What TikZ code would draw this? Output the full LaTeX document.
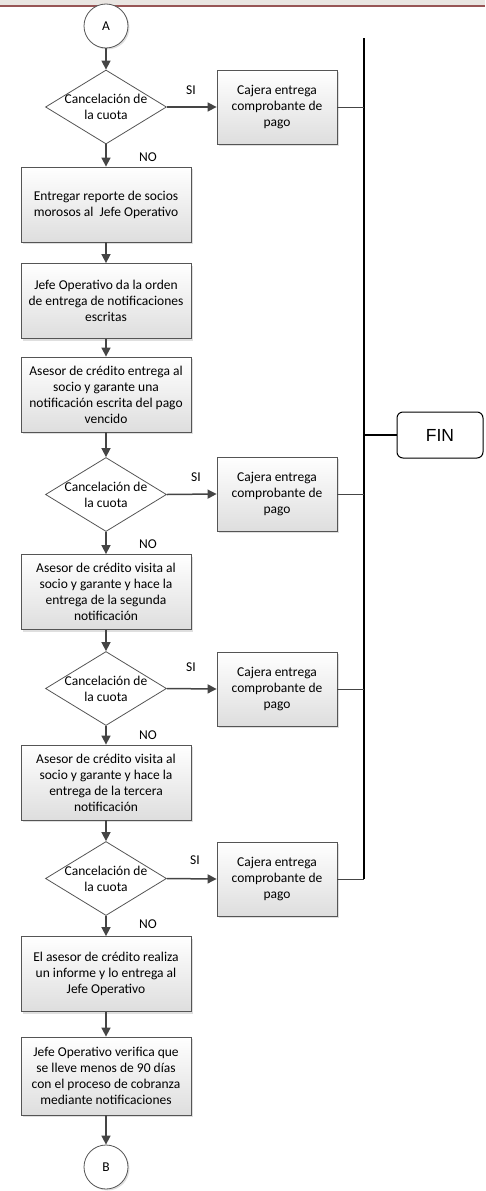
\documentclass[tikz,border=0pt]{standalone}
\usepackage{fontspec}
\setmainfont{Carlito}
\newfontfamily\finfont{Liberation Sans}
\usetikzlibrary{shapes.geometric,arrows.meta,shadows}
\definecolor{linegray}{HTML}{454545}
\definecolor{boxborder}{HTML}{555555}
\definecolor{hdrgray}{HTML}{EAE6E2}
\definecolor{hdrred}{HTML}{985656}
\tikzset{
  txt/.style={font=\fontsize{13.5}{16}\selectfont, align=center},
  procbox/.style={draw=boxborder, line width=0.8pt, top color=white, bottom color=black!13,
    minimum width=170pt, minimum height=75pt, inner sep=0pt, txt,
    drop shadow={shadow xshift=2pt, shadow yshift=-2pt, opacity=0.25}},
  paybox/.style={procbox, minimum width=120pt, minimum height=74pt},
  decbox/.style={diamond, draw=boxborder, line width=0.8pt, fill=white,
    minimum width=121pt, minimum height=74pt, inner sep=0pt},
  conn/.style={circle, draw=boxborder, line width=0.8pt, fill=white, minimum size=44pt,
    inner sep=0pt, txt, drop shadow={shadow xshift=1.5pt, shadow yshift=-1.5pt, opacity=0.25}},
  finbox/.style={draw=black, line width=1pt, rounded corners=6pt, fill=white,
    minimum width=86pt, minimum height=46pt, inner sep=0pt, font=\finfont\fontsize{17.5}{20}\selectfont},
  arr/.style={draw=linegray, line width=1.5pt, -{Triangle[length=9pt,width=9pt]}},
  tieline/.style={draw=linegray, line width=1pt},
  bus/.style={draw=black, line width=1.3pt},
  lbl/.style={font=\fontsize{13.5}{16}\selectfont, inner sep=0pt},
}
\begin{document}
\begin{tikzpicture}[x=1pt,y=-1pt]
\useasboundingbox (0,0) rectangle (485,1191);
% header strip
\fill[hdrgray] (0,0) rectangle (485,4.5);
\fill[hdrred] (0,4.5) rectangle (485,6.8);

% connectors A/B
\node[conn] (A) at (106,26) {A};
\node[conn] (B) at (106,1167) {B};

% decisions
\node[decbox] (d1) at (106,107) {};
\node[txt] at (d1) {Cancelación de\\la cuota};
\node[decbox] (d2) at (106,494.5) {};
\node[txt] at (d2) {Cancelación de\\la cuota};
\node[decbox] (d3) at (106,688.5) {};
\node[txt] at (d3) {Cancelación de\\la cuota};
\node[decbox] (d4) at (106,878.5) {};
\node[txt] at (d4) {Cancelación de\\la cuota};

% process boxes
\node[procbox] (p1) at (106,204.5) {Entregar reporte de socios\\morosos al\ \ Jefe Operativo};
\node[procbox] (p2) at (106,301) {Jefe Operativo da la orden\\de entrega de notificaciones\\escritas};
\node[procbox] (p3) at (106,394.5) {Asesor de crédito entrega al\\socio y garante una\\notificación escrita del pago\\vencido};
\node[procbox] (p4) at (106,592) {Asesor de crédito visita al\\socio y garante y hace la\\entrega de la segunda\\notificación};
\node[procbox] (p5) at (106,782.5) {Asesor de crédito visita al\\socio y garante y hace la\\entrega de la tercera\\notificación};
\node[procbox] (p6) at (106,974) {El asesor de crédito realiza\\un informe y lo entrega al\\Jefe Operativo};
\node[procbox, minimum height=78pt] (p7) at (106,1076) {Jefe Operativo verifica que\\se lleve menos de 90 días\\con el proceso de cobranza\\mediante notificaciones};

% payment boxes
\node[paybox] (c1) at (277,107) {Cajera entrega\\comprobante de\\pago};
\node[paybox] (c2) at (277,494) {Cajera entrega\\comprobante de\\pago};
\node[paybox] (c3) at (277,689) {Cajera entrega\\comprobante de\\pago};
\node[paybox] (c4) at (277,879) {Cajera entrega\\comprobante de\\pago};

% FIN
\node[finbox] (fin) at (440,435) {FIN};

% bus
\coordinate (bt) at (364,38);
\coordinate (bb) at (364,879);
\coordinate (bf) at (364,435);
\draw[bus] (bt) -- (bb);
\draw[tieline] (c1.east) -- (c1.east -| bt);
\draw[tieline] (c2.east) -- (c2.east -| bt);
\draw[tieline] (c3.east) -- (c3.east -| bt);
\draw[tieline] (c4.east) -- (bb);
\draw[bus] (bf) -- (fin.west);

% main flow
\draw[arr] (A) -- (d1.north);
\draw[arr] (d1.south) -- (p1.north);
\draw[arr] (p1) -- (p2);
\draw[arr] (p2) -- (p3);
\draw[arr] (p3.south) -- (d2.north);
\draw[arr] (d2.south) -- (p4.north);
\draw[arr] (p4.south) -- (d3.north);
\draw[arr] (d3.south) -- (p5.north);
\draw[arr] (p5.south) -- (d4.north);
\draw[arr] (d4.south) -- (p6.north);
\draw[arr] (p6) -- (p7);
\draw[arr] (p7) -- (B);

% yes branches
\draw[arr] (d1.east) -- (c1.west);
\draw[arr] (d2.east) -- (c2.west);
\draw[arr] (d3.east) -- (c3.west);
\draw[arr] (d4.east) -- (c4.west);

% labels
\node[lbl] (si1) at (191,90) {SI};
\node[lbl] (si2) at (196,477) {SI};
\node[lbl] (si3) at (191,667) {SI};
\node[lbl] (si4) at (195,860) {SI};
\node[lbl] (no1) at (148,157) {NO};
\node[lbl] (no2) at (148,544) {NO};
\node[lbl] (no3) at (148,735) {NO};
\node[lbl] (no4) at (148,924) {NO};
\end{tikzpicture}
\end{document}
